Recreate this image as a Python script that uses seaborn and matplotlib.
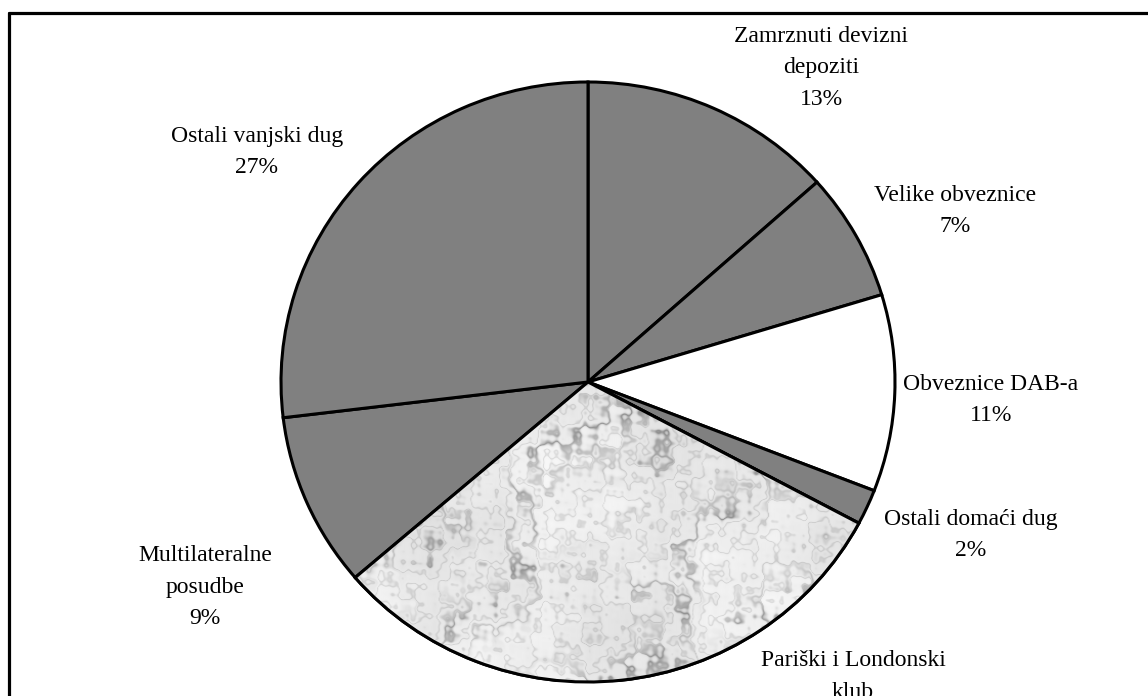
import numpy as np
import matplotlib
matplotlib.use("Agg")
import matplotlib.pyplot as plt
import seaborn as sns
from matplotlib.lines import Line2D
from matplotlib.patches import Wedge

# --- Data ---
categories = ["Zamrznuti devizni\ndepoziti", "Velike obveznice", "Obveznice DAB-a",
              "Ostali domaći dug", "Pariški i Londonski\nklub", "Multilateralne\nposudbe",
              "Ostali vanjski dug"]
shares = [13.4, 6.9, 10.6, 1.9, 30.9, 9.4, 26.9]
pct_labels = ["13%", "7%", "11%", "2%", "31%", "9%", "27%"]
fills = ["#808080", "#808080", "#ffffff", "#808080", "marble", "#808080", "#808080"]
# label centres in pixels (x from left, y from top)
label_pos = [(821, 68), (955, 211), (991, 400), (971, 535), (853, 692), (205, 587), (257, 152)]

sns.set_theme(style="white")
plt.rcParams['font.family'] = ['Liberation Serif', 'DejaVu Serif']

W, H = 1148, 696
fig = plt.figure(figsize=(W / 100, H / 100), dpi=100)
fig.patch.set_facecolor("white")

# pie centre ~ (588, 382) px, radii ~307 x 300 px
cx, cy, rx, ry = 588, 382, 307, 300
ax = fig.add_axes([(cx - rx) / W, (H - cy - ry) / H, 2 * rx / W, 2 * ry / H])

face = [c if c != "marble" else "#e6e6e6" for c in fills]
wedges, _ = ax.pie(shares, colors=face, startangle=90, counterclock=False, radius=1,
                   wedgeprops=dict(edgecolor="black", linewidth=2.2))
ax.set_aspect("auto")
ax.set_xlim(-1, 1)
ax.set_ylim(-1, 1)
ax.axis("off")

# marble-like texture (deterministic) for the Paris/London club slice
gx, gy = np.meshgrid(np.linspace(-1, 1, 600), np.linspace(-1, 1, 600))
turb = (np.sin(7 * gx + 3 * gy) * np.sin(5 * gy - 2 * gx)
        + 0.5 * np.sin(17 * gx - 11 * gy + 1.3) * np.sin(13 * gy + 7 * gx)
        + 0.3 * np.sin(37 * gx + 29 * gy + 0.7) * np.sin(31 * gy - 23 * gx)
        + 0.2 * np.sin(71 * gx - 53 * gy) * np.sin(67 * gy + 59 * gx)
        + 0.12 * np.sin(131 * gx + 97 * gy) * np.sin(113 * gy - 89 * gx))
veins = np.exp(-(np.sin(9 * (gx + 0.7 * gy) + 3.0 * turb) / 0.4) ** 2)
spots = np.exp(-(np.sin(23 * (gx - 0.4 * gy) + 5.0 * turb) / 0.3) ** 2)
tex = 0.92 + 0.03 * turb - 0.24 * veins * (0.5 + 0.5 * np.sin(11 * gx - 7 * gy + 2 * turb)) - 0.1 * spots
tex = np.clip(tex, 0.55, 0.97)
for w, c in zip(wedges, fills):
    if c == "marble":
        im = ax.imshow(tex, cmap="gray", vmin=0, vmax=1, extent=(-1, 1, -1, 1),
                       origin="lower", aspect="auto", zorder=w.get_zorder() + 0.1,
                       interpolation="bilinear")
        im.set_clip_path(w)
        ax.add_patch(Wedge(w.center, w.r, w.theta1, w.theta2, facecolor="none",
                           edgecolor="black", linewidth=2.2, zorder=w.get_zorder() + 0.2))

# labels
for name, pct, (px, py) in zip(categories, pct_labels, label_pos):
    fig.text(px / W, 1 - py / H, f"{name}\n{pct}", ha="center", va="center",
             multialignment="center", fontsize=17, linespacing=1.68, color="black")

# frame (top and left edges visible)
fig.add_artist(Line2D([9 / W, 1.0], [1 - 13 / H, 1 - 13 / H], transform=fig.transFigure,
                      color="black", linewidth=2.3))
fig.add_artist(Line2D([9 / W, 9 / W], [0.0, 1 - 13 / H], transform=fig.transFigure,
                      color="black", linewidth=2.3))

fig.savefig("out.png", dpi=100)
